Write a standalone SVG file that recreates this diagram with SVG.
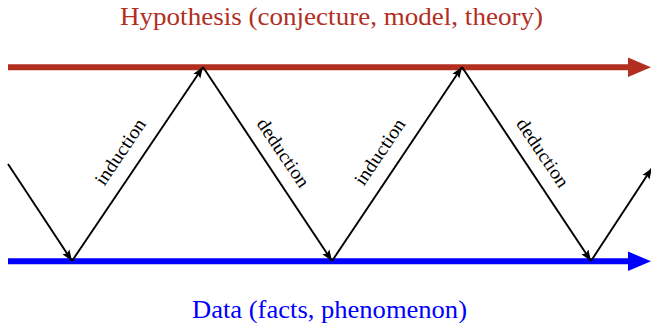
<svg xmlns="http://www.w3.org/2000/svg" width="651" height="323" viewBox="0 0 651 323">
<style>
.t{font-family:"Liberation Serif","Times New Roman",serif;}
.big{font-size:25px;text-anchor:middle;}
.lbl{font-size:19px;text-anchor:middle;fill:#000;}
.conn{stroke:#000;stroke-width:1.9;fill:none;marker-end:url(#ah);}
</style>
<defs>
<marker id="ah" markerUnits="userSpaceOnUse" markerWidth="12" markerHeight="10" viewBox="0 0 12 10" refX="11" refY="5" orient="auto">
<path d="M0,0.8 L11,5 L0,9.2 L2,5 Z" fill="#000"/>
</marker>
</defs>
<rect width="651" height="323" fill="#fff"/>
<g id="hypothesis">
<line x1="8" y1="67.3" x2="632" y2="67.3" stroke="#B22F1F" stroke-width="6"/>
<polygon points="628,57.5 651,67.3 628,77.1" fill="#B22F1F"/>
<text class="t big" x="331.5" y="25" fill="#B22F1F" textLength="423" lengthAdjust="spacingAndGlyphs">Hypothesis (conjecture, model, theory)</text>
</g>
<g id="data">
<line x1="8" y1="261.3" x2="632" y2="261.3" stroke="#0000FF" stroke-width="6"/>
<polygon points="628,251.5 651,261.3 628,271.1" fill="#0000FF"/>
<text class="t big" x="329.5" y="318" fill="#0000FF" textLength="275" lengthAdjust="spacingAndGlyphs">Data (facts, phenomenon)</text>
</g>
<g id="connectors">
<line class="conn" x1="8" y1="164" x2="72" y2="261"/>
<line class="conn" x1="72" y1="261" x2="203" y2="67"/>
<line class="conn" x1="203" y1="67" x2="332" y2="261"/>
<line class="conn" x1="332" y1="261" x2="462" y2="67"/>
<line class="conn" x1="462" y1="67" x2="591" y2="261"/>
<line class="conn" x1="591" y1="261" x2="652" y2="168"/>
</g>
<g id="labels">
<text class="t lbl" transform="translate(120.5,152) rotate(-56)" x="0" y="6" textLength="76" lengthAdjust="spacingAndGlyphs">induction</text>
<text class="t lbl" transform="translate(283,153) rotate(56)" x="0" y="6" textLength="79" lengthAdjust="spacingAndGlyphs">deduction</text>
<text class="t lbl" transform="translate(380,152) rotate(-56)" x="0" y="6" textLength="76" lengthAdjust="spacingAndGlyphs">induction</text>
<text class="t lbl" transform="translate(542.5,153) rotate(56)" x="0" y="6" textLength="79" lengthAdjust="spacingAndGlyphs">deduction</text>
</g>
</svg>
